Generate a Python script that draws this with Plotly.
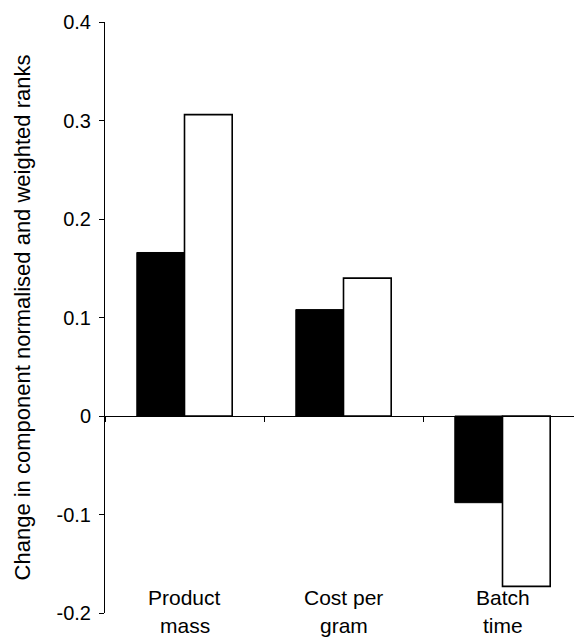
import plotly.graph_objects as go

categories = ["Product mass", "Cost per gram", "Batch time"]
category_labels = [["Product", "mass"], ["Cost per", "gram"], ["Batch", "time"]]
series_black = [0.166, 0.108, -0.088]
series_white = [0.306, 0.140, -0.173]
y_ticks = [-0.2, -0.1, 0, 0.1, 0.2, 0.3, 0.4]
y_ticktext = ["-0.2", "-0.1", "0", "0.1", "0.2", "0.3", "0.4"]

FONT = "Liberation Sans, Arial, sans-serif"

fig = go.Figure()
fig.add_trace(go.Bar(x=categories, y=series_black, marker=dict(color="black", line=dict(color="black", width=1)),
                     showlegend=False))
fig.add_trace(go.Bar(x=categories, y=series_white, marker=dict(color="white", line=dict(color="black", width=1.6)),
                     showlegend=False))

annotations = []
for cat, lines in zip(categories, category_labels):
    annotations.append(dict(x=cat, y=-0.2, xref="x", yref="y", text=lines[0], showarrow=False,
                            yanchor="middle", yshift=16, font=dict(size=21, color="black", family=FONT)))
    annotations.append(dict(x=cat, y=-0.2, xref="x", yref="y", text=lines[1], showarrow=False,
                            yanchor="middle", yshift=-12, font=dict(size=21, color="black", family=FONT)))

# page body has an 8px default margin; sizes compensate for it
fig.update_layout(
    width=574, height=631,
    margin=dict(l=97, r=0, t=14, b=26),
    plot_bgcolor="white", paper_bgcolor="white",
    barmode="group", bargap=0.4, bargroupgap=0,
    font=dict(family=FONT, size=20, color="black"),
    annotations=annotations,
    xaxis=dict(type="category", anchor="free", position=1/3, showline=True, linecolor="black", linewidth=1,
               ticks="outside", tickson="boundaries", ticklen=5, tickcolor="black", automargin=False,
               showticklabels=False, showgrid=False, zeroline=False),
    yaxis=dict(range=[-0.2, 0.4], tickvals=y_ticks, ticktext=y_ticktext, showline=True, linecolor="black",
               linewidth=1, ticks="outside", ticklen=5, tickcolor="black", showgrid=False, zeroline=False,
               automargin=False, ticklabelstandoff=4,
               tickfont=dict(size=20, family=FONT),
               title=dict(text="Change in component normalised and weighted ranks",
                          font=dict(size=22, family=FONT), standoff=19)),
)

fig.write_html("out.html")
